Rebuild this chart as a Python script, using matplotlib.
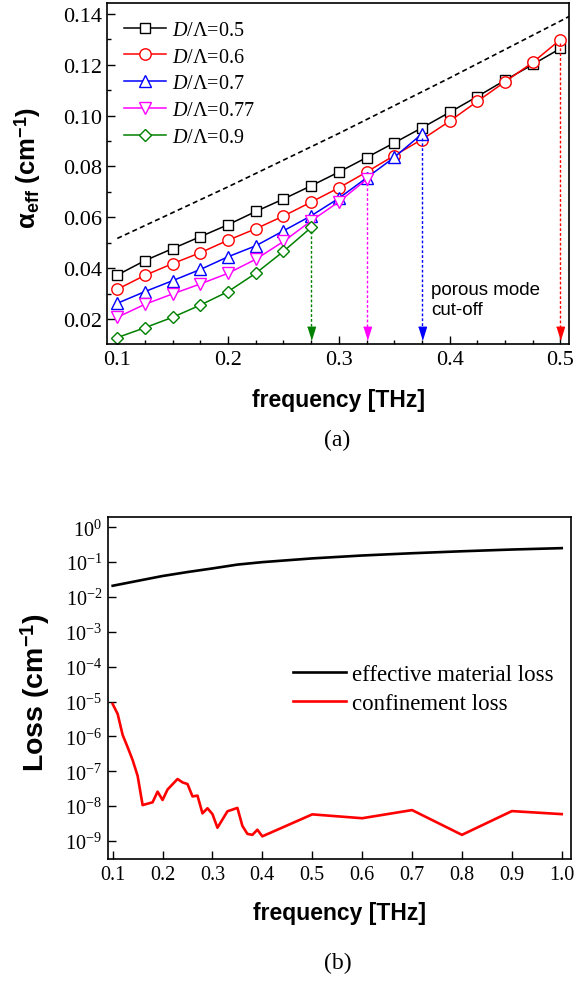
import matplotlib
matplotlib.use('Agg')
import matplotlib.pyplot as plt
from matplotlib.ticker import MultipleLocator, FormatStrFormatter, LogLocator, NullLocator

plt.rcParams['font.family'] = 'Liberation Serif'
plt.rcParams['mathtext.fontset'] = 'custom'
plt.rcParams['mathtext.rm'] = 'Liberation Serif'
plt.rcParams['mathtext.it'] = 'Liberation Serif:italic'
plt.rcParams['mathtext.bf'] = 'Liberation Sans:bold'

# (a) effective absorption vs frequency
freq = [0.1, 0.125, 0.15, 0.175, 0.2, 0.225, 0.25, 0.275, 0.3, 0.325,
        0.35, 0.375, 0.4, 0.425, 0.45, 0.475, 0.5]
alpha_05 = [0.0373, 0.0430, 0.0477, 0.0524, 0.0571, 0.0623, 0.0672, 0.0724, 0.0778,
            0.0835, 0.0893, 0.0952, 0.1013, 0.1075, 0.1139, 0.1201, 0.1264]
alpha_06 = [0.0317, 0.0372, 0.0418, 0.0461, 0.0510, 0.0555, 0.0605, 0.0660, 0.0716,
            0.0778, 0.0843, 0.0906, 0.0978, 0.1056, 0.1133, 0.1209, 0.1299]
alpha_07 = [0.0262, 0.0308, 0.0351, 0.0395, 0.0445, 0.0488, 0.0547, 0.0606, 0.0675,
            0.0755, 0.0836, 0.0928]
alpha_077 = [0.0207, 0.0258, 0.0299, 0.0338, 0.0380, 0.0435, 0.0505, 0.0586, 0.0661,
             0.0749]
alpha_09 = [0.0127, 0.0166, 0.0207, 0.0255, 0.0308, 0.0380, 0.0466, 0.0560]
ratio_labels = ['0.5', '0.6', '0.7', '0.77', '0.9']

bulk_freq = [0.1, 0.2, 0.3, 0.4, 0.5, 0.51]
bulk_alpha = [0.0517, 0.0720, 0.0930, 0.1148, 0.1372, 0.1395]

# (b) losses vs frequency
mat_freq = [0.1, 0.15, 0.2, 0.25, 0.3, 0.35, 0.4, 0.5, 0.6, 0.7, 0.8, 0.9, 1.0]
mat_loss = [0.021, 0.029, 0.040, 0.052, 0.066, 0.085, 0.100, 0.128, 0.155, 0.180,
            0.205, 0.230, 0.252]
conf_freq = [0.10, 0.11, 0.12, 0.13, 0.14, 0.15, 0.16, 0.18, 0.19, 0.20, 0.21, 0.23,
             0.24, 0.25, 0.26, 0.27, 0.28, 0.29, 0.30, 0.31, 0.33, 0.35, 0.36, 0.37,
             0.38, 0.39, 0.40, 0.5, 0.6, 0.7, 0.8, 0.9, 1.0]
conf_loss = [8.5e-6, 4.4e-6, 1.1e-6, 4.9e-7, 2.1e-7, 7.4e-8, 1.07e-8, 1.29e-8, 2.6e-8,
             1.5e-8, 3.0e-8, 6.0e-8, 4.8e-8, 4.3e-8, 1.9e-8, 2.0e-8, 6.2e-9, 8.7e-9,
             5.9e-9, 2.4e-9, 7.1e-9, 8.9e-9, 2.7e-9, 1.6e-9, 1.5e-9, 2.1e-9, 1.36e-9,
             5.8e-9, 4.5e-9, 7.7e-9, 1.5e-9, 7.2e-9, 5.9e-9]

fig = plt.figure(figsize=(5.74, 9.87), dpi=100)
ax1 = fig.add_axes([0.1870, 0.6505, 0.8048, 0.3455])
ax2 = fig.add_axes([0.1876, 0.1287, 0.8072, 0.3462])

series = [alpha_05, alpha_06, alpha_07, alpha_077, alpha_09]
colors = ['black', 'red', 'blue', 'magenta', 'green']
markers = ['s', 'o', '^', 'v', 'D']
sizes = [7.2, 8.2, 8.5, 8.5, 6.6]

ax1.plot(bulk_freq, bulk_alpha, color='black', lw=1.2, ls=(0, (3, 2)))
for vals, c, m, ms, lab in zip(series, colors, markers, sizes, ratio_labels):
    ax1.plot(freq[:len(vals)], vals, color=c, marker=m, ms=ms, mfc='white',
             mec=c, mew=1.0, lw=1.1, label=r'$\mathit{D}$/Λ=' + lab)

# cut-off arrows (last point of each series except D/Λ=0.5)
head = [(-1, 1.6), (1, 1.6), (0, -1.6)]
for vals, c in zip(series[1:], colors[1:]):
    xc = freq[len(vals) - 1]
    ax1.plot([xc, xc], [vals[-1] - 0.0015, 0.0165], color=c, lw=1.0, ls=(0, (2, 1.5)))
    ax1.plot(xc, 0.0144, marker=head, ms=9, color=c, mec=c, lw=0)

ax1.text(0.383, 0.0350, 'porous mode\ncut-off', fontfamily='Liberation Sans',
         fontsize=13.5, va='top', ha='left', linespacing=1.25)

ax1.set_xlim(0.091, 0.508)
ax1.set_ylim(0.0102, 0.1443)
ax1.xaxis.set_major_locator(MultipleLocator(0.1))
ax1.xaxis.set_minor_locator(MultipleLocator(0.025))
ax1.yaxis.set_major_locator(MultipleLocator(0.02))
ax1.yaxis.set_minor_locator(MultipleLocator(0.01))
ax1.xaxis.set_major_formatter(FormatStrFormatter('%.1f'))
ax1.yaxis.set_major_formatter(FormatStrFormatter('%.2f'))
ax1.tick_params(which='both', direction='in', top=False, right=False, width=1.0)
ax1.tick_params(which='major', length=5.5, labelsize=16, pad=4)
ax1.tick_params(which='minor', length=3)
ax1.set_xlabel('frequency [THz]', fontfamily='Liberation Sans', fontweight='bold',
               fontsize=16.5)
ax1.set_ylabel(r'α$_{\mathbf{eff}}$ (cm$^{\mathbf{-1}}$)', fontfamily='Liberation Sans',
               fontweight='bold', fontsize=18.5)
ax1.xaxis.set_label_coords(0.5, -0.13)
ax1.yaxis.set_label_coords(-0.14, 0.52)
ax1.legend(loc='upper left', bbox_to_anchor=(0.035, 0.948), frameon=False,
           fontsize=14.5, borderpad=0, borderaxespad=0, handlelength=2.1,
           handletextpad=0.3, labelspacing=0.38)

ax2.semilogy(mat_freq, mat_loss, color='black', lw=1.9, label='effective material loss')
ax2.semilogy(conf_freq, conf_loss, color='red', lw=1.9, label='confinement loss')
ax2.set_xlim(0.09, 1.0186)
ax2.set_ylim(10 ** -9.516, 10 ** 0.287)
ax2.xaxis.set_major_locator(MultipleLocator(0.1))
ax2.xaxis.set_major_formatter(FormatStrFormatter('%.1f'))
ax2.yaxis.set_major_locator(LogLocator(base=10, numticks=15))
ax2.yaxis.set_minor_locator(NullLocator())
ax2.tick_params(which='both', direction='in', top=False, right=False, width=1.0)
ax2.tick_params(which='major', length=5.5, labelsize=14.5, pad=4)
ax2.set_xlabel('frequency [THz]', fontfamily='Liberation Sans', fontweight='bold',
               fontsize=16.5)
ax2.set_ylabel(r'Loss (cm$^{\mathbf{-1}}$)', fontfamily='Liberation Sans',
               fontweight='bold', fontsize=20.5)
ax2.xaxis.set_label_coords(0.5, -0.122)
ax2.yaxis.set_label_coords(-0.12, 0.49)
ax2.legend(loc='upper left', bbox_to_anchor=(0.40, 0.572), frameon=False,
           fontsize=16.5, borderpad=0, borderaxespad=0, handlelength=2.3,
           handletextpad=0.27, labelspacing=0.38)

for ax in (ax1, ax2):
    for sp in ax.spines.values():
        sp.set_linewidth(1.2)

fig.text(337.5 / 574, 1 - 440 / 987, '(a)', fontsize=17, ha='center', va='center')
fig.text(337.5 / 574, 1 - 963 / 987, '(b)', fontsize=17, ha='center', va='center')

fig.savefig('out.png', dpi=100)
